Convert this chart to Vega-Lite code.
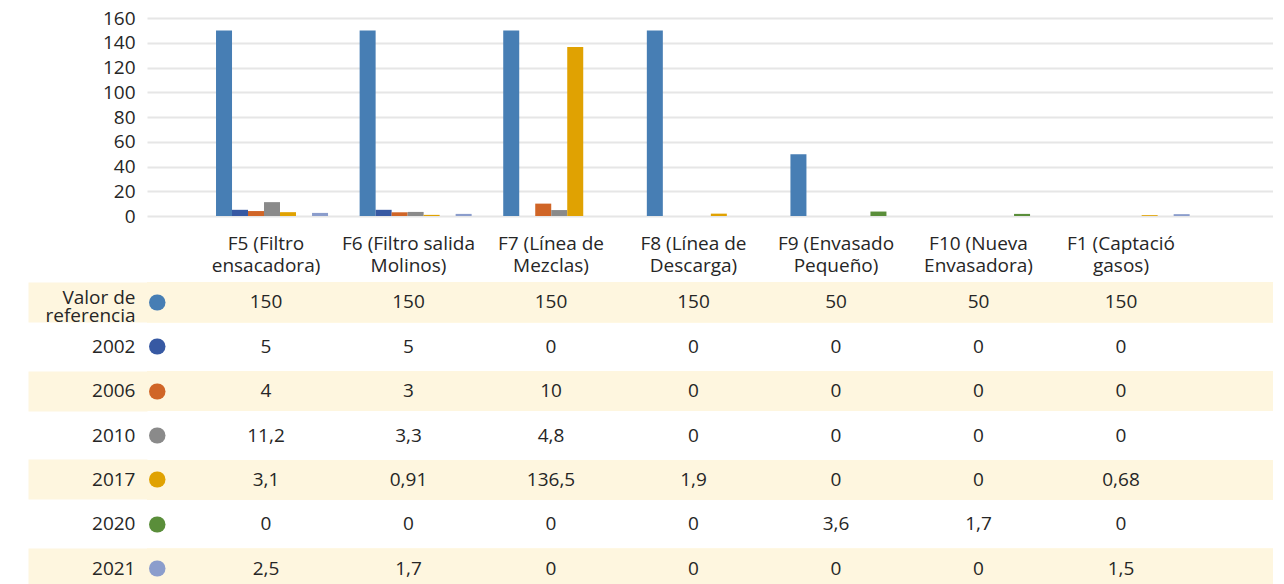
{
  "$schema": "https://vega.github.io/schema/vega-lite/v6.json",
  "padding": {"top": 9, "left": 8, "right": 0, "bottom": 0},
  "config": {
    "font": "Open Sans",
    "view": {"stroke": null},
    "locale": {"number": {"decimal": ",", "thousands": ".", "grouping": [3], "currency": ["", " €"]}},
    "axis": {"labelFont": "Open Sans", "labelColor": "#262626", "labelFontSize": 19, "minExtent": 0}
  },
  "data": {"values": [
    {"cat": "F5 (Filtro ensacadora)", "serie": "Valor de referencia", "valor": 150},
    {"cat": "F6 (Filtro salida Molinos)", "serie": "Valor de referencia", "valor": 150},
    {"cat": "F7 (Línea de Mezclas)", "serie": "Valor de referencia", "valor": 150},
    {"cat": "F8 (Línea de Descarga)", "serie": "Valor de referencia", "valor": 150},
    {"cat": "F9 (Envasado Pequeño)", "serie": "Valor de referencia", "valor": 50},
    {"cat": "F10 (Nueva Envasadora)", "serie": "Valor de referencia", "valor": 50, "enGrafico": false},
    {"cat": "F1 (Captació gasos)", "serie": "Valor de referencia", "valor": 150, "enGrafico": false},
    {"cat": "F5 (Filtro ensacadora)", "serie": "2002", "valor": 5},
    {"cat": "F6 (Filtro salida Molinos)", "serie": "2002", "valor": 5},
    {"cat": "F7 (Línea de Mezclas)", "serie": "2002", "valor": 0},
    {"cat": "F8 (Línea de Descarga)", "serie": "2002", "valor": 0},
    {"cat": "F9 (Envasado Pequeño)", "serie": "2002", "valor": 0},
    {"cat": "F10 (Nueva Envasadora)", "serie": "2002", "valor": 0},
    {"cat": "F1 (Captació gasos)", "serie": "2002", "valor": 0},
    {"cat": "F5 (Filtro ensacadora)", "serie": "2006", "valor": 4},
    {"cat": "F6 (Filtro salida Molinos)", "serie": "2006", "valor": 3},
    {"cat": "F7 (Línea de Mezclas)", "serie": "2006", "valor": 10},
    {"cat": "F8 (Línea de Descarga)", "serie": "2006", "valor": 0},
    {"cat": "F9 (Envasado Pequeño)", "serie": "2006", "valor": 0},
    {"cat": "F10 (Nueva Envasadora)", "serie": "2006", "valor": 0},
    {"cat": "F1 (Captació gasos)", "serie": "2006", "valor": 0},
    {"cat": "F5 (Filtro ensacadora)", "serie": "2010", "valor": 11.2},
    {"cat": "F6 (Filtro salida Molinos)", "serie": "2010", "valor": 3.3},
    {"cat": "F7 (Línea de Mezclas)", "serie": "2010", "valor": 4.8},
    {"cat": "F8 (Línea de Descarga)", "serie": "2010", "valor": 0},
    {"cat": "F9 (Envasado Pequeño)", "serie": "2010", "valor": 0},
    {"cat": "F10 (Nueva Envasadora)", "serie": "2010", "valor": 0},
    {"cat": "F1 (Captació gasos)", "serie": "2010", "valor": 0},
    {"cat": "F5 (Filtro ensacadora)", "serie": "2017", "valor": 3.1},
    {"cat": "F6 (Filtro salida Molinos)", "serie": "2017", "valor": 0.91},
    {"cat": "F7 (Línea de Mezclas)", "serie": "2017", "valor": 136.5},
    {"cat": "F8 (Línea de Descarga)", "serie": "2017", "valor": 1.9},
    {"cat": "F9 (Envasado Pequeño)", "serie": "2017", "valor": 0},
    {"cat": "F10 (Nueva Envasadora)", "serie": "2017", "valor": 0},
    {"cat": "F1 (Captació gasos)", "serie": "2017", "valor": 0.68},
    {"cat": "F5 (Filtro ensacadora)", "serie": "2020", "valor": 0},
    {"cat": "F6 (Filtro salida Molinos)", "serie": "2020", "valor": 0},
    {"cat": "F7 (Línea de Mezclas)", "serie": "2020", "valor": 0},
    {"cat": "F8 (Línea de Descarga)", "serie": "2020", "valor": 0},
    {"cat": "F9 (Envasado Pequeño)", "serie": "2020", "valor": 3.6},
    {"cat": "F10 (Nueva Envasadora)", "serie": "2020", "valor": 1.7},
    {"cat": "F1 (Captació gasos)", "serie": "2020", "valor": 0},
    {"cat": "F5 (Filtro ensacadora)", "serie": "2021", "valor": 2.5},
    {"cat": "F6 (Filtro salida Molinos)", "serie": "2021", "valor": 1.7},
    {"cat": "F7 (Línea de Mezclas)", "serie": "2021", "valor": 0},
    {"cat": "F8 (Línea de Descarga)", "serie": "2021", "valor": 0},
    {"cat": "F9 (Envasado Pequeño)", "serie": "2021", "valor": 0},
    {"cat": "F10 (Nueva Envasadora)", "serie": "2021", "valor": 0},
    {"cat": "F1 (Captació gasos)", "serie": "2021", "valor": 1.5}
  ]},
  "spacing": 8,
  "resolve": {"scale": {"x": "independent", "y": "independent"}},
  "vconcat": [
    {
      "width": 1126,
      "height": 198,
      "transform": [{"filter": "datum.enGrafico !== false"}],
      "mark": {"type": "bar"},
      "encoding": {
        "x": {
          "field": "cat", "type": "nominal",
          "scale": {"type": "band", "domain": ["F5 (Filtro ensacadora)", "F6 (Filtro salida Molinos)", "F7 (Línea de Mezclas)", "F8 (Línea de Descarga)", "F9 (Envasado Pequeño)", "F10 (Nueva Envasadora)", "F1 (Captació gasos)"], "paddingInner": 0.22, "paddingOuter": 0.5305, "align": 0.453, "round": false},
          "axis": null
        },
        "xOffset": {
          "field": "serie", "type": "nominal",
          "scale": {"domain": ["Valor de referencia", "2002", "2006", "2010", "2017", "2020", "2021"], "paddingInner": 0, "paddingOuter": 0}
        },
        "y": {
          "field": "valor", "type": "quantitative",
          "scale": {"domain": [0, 160], "nice": false},
          "axis": {"values": [0, 20, 40, 60, 80, 100, 120, 140, 160], "title": null, "domain": false, "ticks": false, "labelPadding": 12, "gridColor": "#e6e6e6", "gridWidth": 2}
        },
        "color": {
          "field": "serie", "type": "nominal",
          "scale": {"domain": ["Valor de referencia", "2002", "2006", "2010", "2017", "2020", "2021"], "range": ["#477EB4", "#3759A3", "#D06527", "#8A8A8A", "#E0A202", "#5A8E3A", "#8B9DCC"]},
          "legend": null
        }
      }
    },
    {
      "width": 1126,
      "height": 311,
      "resolve": {"axis": {"y": "independent"}},
      "layer": [
        {
          "transform": [{"filter": {"field": "serie", "oneOf": ["Valor de referencia", "2006", "2017", "2021"]}}],
          "mark": {"type": "rect", "color": "#FEF6DF"},
          "encoding": {
            "y": {
              "field": "serie", "type": "nominal",
              "scale": {"type": "band", "domain": ["Valor de referencia", "2002", "2006", "2010", "2017", "2020", "2021"], "paddingInner": 0.1, "paddingOuter": 0.05},
              "axis": {
                "orient": "left", "title": null, "domain": false, "grid": false, "bandPosition": 0.5,
                "ticks": true, "tickSize": 119, "tickWidth": 40, "tickCap": "butt",
                "tickColor": {"condition": {"test": "indexof(['Valor de referencia','2006','2017','2021'], datum.value) >= 0", "value": "#FEF6DF"}, "value": "transparent"},
                "labelPadding": -107, "labelLineHeight": 18,
                "labelOffset": {"condition": {"test": "datum.value == 'Valor de referencia'", "value": -4}, "value": 0},
                "labelExpr": "datum.value == 'Valor de referencia' ? ['Valor de', 'referencia'] : datum.label"
              }
            }
          }
        },
        {
          "mark": {"type": "text", "fontSize": 19, "color": "#262626", "font": "Open Sans"},
          "encoding": {
            "x": {
              "field": "cat", "type": "nominal",
              "scale": {"type": "band", "domain": ["F5 (Filtro ensacadora)", "F6 (Filtro salida Molinos)", "F7 (Línea de Mezclas)", "F8 (Línea de Descarga)", "F9 (Envasado Pequeño)", "F10 (Nueva Envasadora)", "F1 (Captació gasos)"], "paddingInner": 0, "paddingOuter": 0.4509, "align": 0.3716, "round": false},
              "axis": {
                "orient": "top", "title": null, "domain": false, "ticks": false, "labelAngle": 0,
                "labelBaseline": "top", "labelPadding": 46, "labelLineHeight": 22,
                "labelExpr": "[slice(datum.label, 0, lastindexof(datum.label, ' ')), slice(datum.label, lastindexof(datum.label, ' ') + 1)]"
              }
            },
            "y": {
              "field": "serie", "type": "nominal",
              "scale": {"type": "band", "domain": ["Valor de referencia", "2002", "2006", "2010", "2017", "2020", "2021"], "paddingInner": 0.1, "paddingOuter": 0.05},
              "axis": {
                "orient": "left", "title": null, "domain": false, "labels": false, "grid": false, "bandPosition": 0.5,
                "offset": -10, "ticks": true, "tickSize": 0.5, "tickWidth": 16, "tickCap": "round", "zindex": 1,
                "tickColor": {"condition": [
                  {"test": "datum.value === 'Valor de referencia'", "value": "#477EB4"},
                  {"test": "datum.value === '2002'", "value": "#3759A3"},
                  {"test": "datum.value === '2006'", "value": "#D06527"},
                  {"test": "datum.value === '2010'", "value": "#8A8A8A"},
                  {"test": "datum.value === '2017'", "value": "#E0A202"},
                  {"test": "datum.value === '2020'", "value": "#5A8E3A"}
                ], "value": "#8B9DCC"}
              }
            },
            "text": {"field": "valor", "type": "quantitative", "format": "~g"}
          }
        }
      ]
    }
  ]
}
